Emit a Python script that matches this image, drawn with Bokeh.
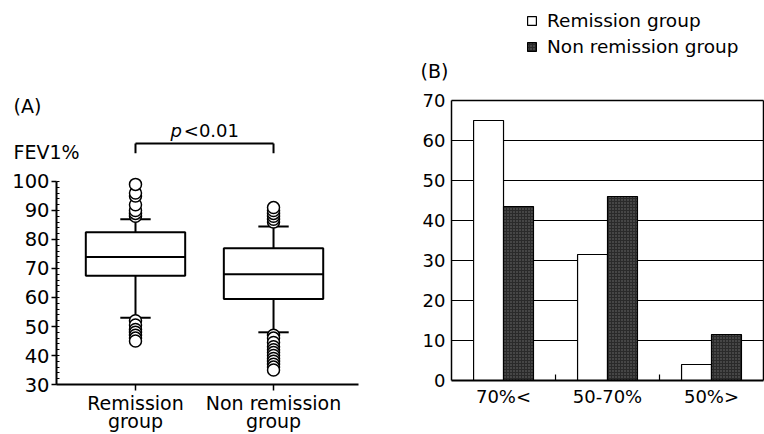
from bokeh.plotting import figure
from bokeh.layouts import row
from bokeh.models import (Range1d, FixedTicker, Label, Legend, LegendItem,
                          LinearAxis)
from bokeh.embed import file_html
from bokeh.resources import INLINE

FONT = "DejaVu Sans"

# ---------------- Panel A data (box plot, FEV1%) ----------------
groups_a = ["Remission\ngroup", "Non remission\ngroup"]
q1 = [67.5, 59.5]
median = [74.0, 68.0]
q3 = [82.5, 77.0]
whisker_low = [53.0, 48.0]
whisker_high = [87.0, 84.5]
outliers_remission = [88, 89, 90, 92, 95, 96, 99, 52, 50.5, 49, 48, 47, 46, 45]
outliers_non_remission = [86, 87, 88, 89, 90, 91, 47, 46, 44.5, 43, 42, 41, 40,
                          39, 38, 37, 36, 35]
y_ticks_a = [30, 40, 50, 60, 70, 80, 90, 100]

# ---------------- Panel B data (bar chart) ----------------
categories_b = ["70%<", "50-70%", "50%>"]
remission_pct = [65.0, 31.5, 4.0]
non_remission_pct = [43.5, 46.0, 11.5]
y_ticks_b = [0, 10, 20, 30, 40, 50, 60, 70]


def bare_figure(w, h, xr, yr):
    p = figure(width=w, height=h, x_range=Range1d(*xr), y_range=Range1d(*yr),
               output_backend="svg", toolbar_location=None,
               min_border_left=0, min_border_right=0,
               min_border_top=0, min_border_bottom=0)
    p.outline_line_color = None
    p.xgrid.visible = False
    p.ygrid.visible = False
    return p


def style_labels(ax, size):
    ax.major_label_text_font = FONT
    ax.major_label_text_font_size = size
    ax.major_label_text_color = "black"


# ================= Panel A =================
# frame covers the whole canvas; axes are placed with fixed_location
AX_X = -0.5725          # where the y axis sits
AX_X_END = 1.616        # end of the x axis line
pA = bare_figure(380, 434, (-0.978, 1.775), (12.76, 162.41))

pos = list(range(len(groups_a)))
bw = 0.36
cap = 0.11

ya = pA.yaxis[0]
ya.fixed_location = AX_X
ya.ticker = FixedTicker(ticks=y_ticks_a, minor_ticks=list(range(30, 101, 2)))
ya.bounds = (y_ticks_a[0], y_ticks_a[-1])
ya.axis_line_width = 2
ya.major_tick_out = 5
ya.major_tick_in = 0
ya.major_tick_line_width = 1.5
ya.minor_tick_in = 3
ya.minor_tick_out = 0
style_labels(ya, "19.5px")
ya.major_label_standoff = 2

xa = pA.xaxis[0]
xa.fixed_location = y_ticks_a[0]
xa.bounds = (AX_X, AX_X_END)
xa.ticker = FixedTicker(ticks=pos)
xa.major_label_overrides = {i: g for i, g in enumerate(groups_a)}
xa.axis_line_width = 2
xa.major_tick_out = 6
xa.major_tick_in = 0
xa.major_tick_line_width = 1.5
xa.minor_tick_out = 0
xa.minor_tick_in = 0
style_labels(xa, "19px")
xa.major_label_text_line_height = 0.85
xa.major_label_standoff = 1

# whiskers (through outlier stacks)
all_out = [outliers_remission, outliers_non_remission]
for i in pos:
    pA.segment(x0=[i, i], y0=[q3[i], q1[i]], x1=[i, i],
               y1=[max(all_out[i]), min(all_out[i])],
               line_color="black", line_width=2)
pA.quad(left=[p - bw for p in pos], right=[p + bw for p in pos],
        bottom=q1, top=q3, fill_color="white", line_color="black", line_width=2)
pA.segment(x0=[p - bw for p in pos], x1=[p + bw for p in pos],
           y0=median, y1=median, line_color="black", line_width=2)
pA.segment(x0=[p - cap for p in pos] * 2, x1=[p + cap for p in pos] * 2,
           y0=whisker_low + whisker_high, y1=whisker_low + whisker_high,
           line_color="black", line_width=2)
for i in pos:
    pA.scatter(x=[i] * len(all_out[i]), y=all_out[i], size=12,
               marker="circle", fill_color="white", line_color="black",
               line_width=1.5)

# bracket and p value
pA.segment(x0=[0, 0, 1], y0=[113.1, 109.7, 109.7], x1=[1, 0, 1],
           y1=[113.1, 113.1, 113.1], line_color="black", line_width=2)
pA.add_layout(Label(x=0.254, y=117.6, text="p", text_font=FONT,
                    text_font_style="italic", text_font_size="18px",
                    text_baseline="middle", text_color="black"))
pA.add_layout(Label(x=0.35, y=117.6, text="<0.01", text_font=FONT,
                    text_font_size="18px", text_baseline="middle",
                    text_color="black"))
pA.add_layout(Label(x=-0.884, y=110.0, text="FEV1%", text_font=FONT,
                    text_font_size="19px", text_baseline="middle",
                    text_color="black"))
pA.add_layout(Label(x=-0.884, y=126.2, text="(A)", text_font=FONT,
                    text_font_size="19px", text_baseline="middle",
                    text_color="black"))

# ================= Panel B =================
NB = len(categories_b)
pB = bare_figure(384, 434, (-0.683, 3.0096), (-13.5, 95.0))
YB_TOP = y_ticks_b[-1]

yb = pB.yaxis[0]
yb.fixed_location = 0
yb.bounds = (0, YB_TOP)
yb.ticker = FixedTicker(ticks=y_ticks_b)
yb.axis_line_width = 1.5
yb.major_tick_out = 0
yb.major_tick_in = 0
yb.minor_tick_in = 0
yb.minor_tick_out = 0
style_labels(yb, "18px")
yb.major_label_standoff = 6

centers = [i + 0.5 for i in range(NB)]
xb = pB.xaxis[0]
xb.fixed_location = 0
xb.bounds = (0, NB)
xb.ticker = FixedTicker(ticks=centers)
xb.major_label_overrides = {c: lab for c, lab in zip(centers, categories_b)}
xb.axis_line_width = 2
xb.major_tick_out = 0
xb.major_tick_in = 0
xb.minor_tick_in = 0
xb.minor_tick_out = 0
style_labels(xb, "18px")
xb.major_label_standoff = 5

# closing lines of the box (right and top)
right_ax = LinearAxis(fixed_location=NB, bounds=(0, YB_TOP),
                      ticker=FixedTicker(ticks=[]), axis_line_width=1.5,
                      major_tick_out=0, major_tick_in=0, minor_tick_out=0,
                      minor_tick_in=0)
pB.add_layout(right_ax, "right")
top_ax = LinearAxis(fixed_location=YB_TOP, bounds=(0, NB),
                    ticker=FixedTicker(ticks=[]), axis_line_width=1.5,
                    major_tick_out=0, major_tick_in=0, minor_tick_out=0,
                    minor_tick_in=0)
pB.add_layout(top_ax, "above")

# horizontal grid lines inside the box
grid_done = False
try:
    g = pB.ygrid[0]
    g.cross_bounds = (0, NB)
    g.visible = True
    g.ticker = FixedTicker(ticks=y_ticks_b[1:-1])
    g.grid_line_color = "black"
    g.grid_line_width = 1.2
    g.grid_line_alpha = 1.0
    grid_done = True
except AttributeError:
    grid_done = False
if not grid_done:
    gy = y_ticks_b[1:-1]
    pB.segment(x0=[0] * len(gy), x1=[NB] * len(gy), y0=gy, y1=gy,
               line_color="black", line_width=1.2)

bar_w = 0.288
r1 = pB.vbar(x=[c - bar_w / 2 for c in centers], top=remission_pct, width=bar_w,
             fill_color="white", line_color="black", line_width=1.2)
r2 = pB.vbar(x=[c + bar_w / 2 for c in centers], top=non_remission_pct,
             width=bar_w, fill_color="#2a2a2a", line_color="black",
             line_width=1.2, hatch_pattern="dot", hatch_color="#707070",
             hatch_scale=3, hatch_weight=1)
# small ticks between groups
bounds_x = list(range(1, NB))
pB.segment(x0=bounds_x, x1=bounds_x, y0=[0] * len(bounds_x),
           y1=[1.5] * len(bounds_x), line_color="black", line_width=1.2)

legend = Legend(items=[LegendItem(label="Remission group", renderers=[r1]),
                       LegendItem(label="Non remission group", renderers=[r2])],
                location=(146, 377), padding=0, margin=0, spacing=5,
                glyph_width=11, glyph_height=11, label_standoff=10,
                label_text_font=FONT, label_text_font_size="18.5px",
                label_text_color="black", border_line_color=None,
                background_fill_alpha=0)
pB.add_layout(legend, "center")
pB.add_layout(Label(x=-0.298, y=77.5, text="(B)", text_font=FONT,
                    text_font_size="19px", text_baseline="middle",
                    text_color="black"))

layout = row(pA, pB)
open("out.html", "w").write(file_html(layout, INLINE))
